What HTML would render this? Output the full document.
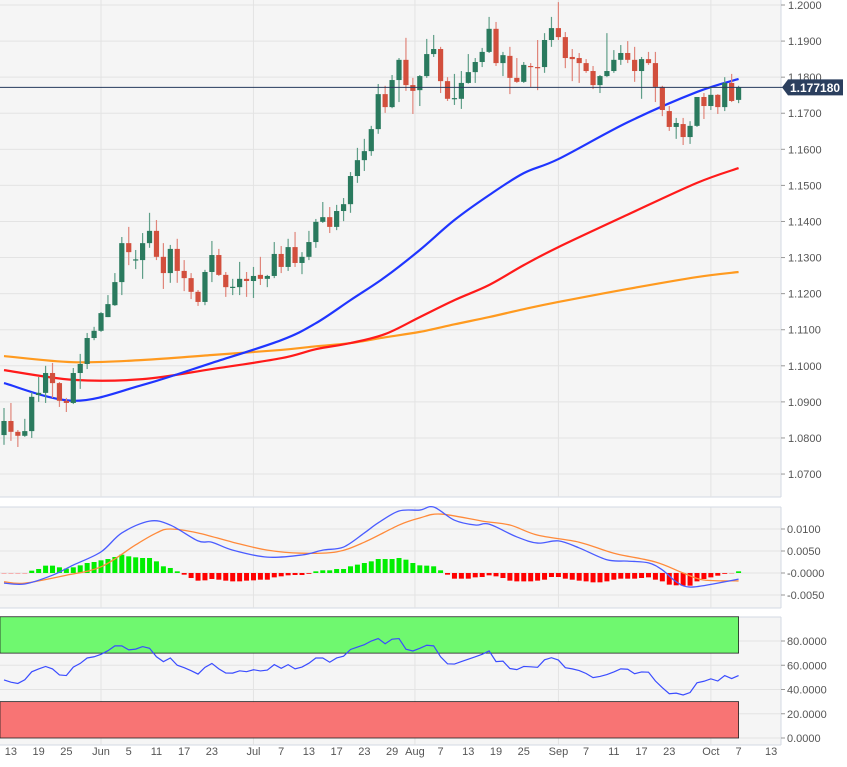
<!DOCTYPE html>
<html><head><meta charset="utf-8"><style>
html,body{margin:0;padding:0;background:#fff;}
svg{display:block;font-family:"Liberation Sans",sans-serif;}
</style></head><body>
<svg id="chart" width="847" height="767" viewBox="0 0 847 767" xmlns="http://www.w3.org/2000/svg"></svg>
<script>
// ---- data ----
const opens=[1.0808,1.0847,1.0817,1.0806,1.0819,1.0919,1.0925,1.0980,1.0952,1.0903,1.0897,1.0980,1.1005,1.1077,1.1097,1.1135,1.1168,1.1232,1.1340,1.1293,1.1293,1.1340,1.1374,1.1302,1.1257,1.1324,1.1263,1.1243,1.1205,1.1177,1.1260,1.1307,1.1252,1.1216,1.1218,1.1241,1.1235,1.1252,1.1241,1.1249,1.1310,1.1274,1.1329,1.1285,1.1302,1.1343,1.1399,1.1412,1.1385,1.1429,1.1448,1.1526,1.1570,1.1595,1.1656,1.1753,1.1717,1.1792,1.1848,1.1778,1.1764,1.1803,1.1864,1.1878,1.1789,1.1740,1.1740,1.1784,1.1814,1.1842,1.1870,1.1934,1.1839,1.1859,1.1798,1.1787,1.1831,1.1828,1.1828,1.1903,1.1936,1.1911,1.1856,1.1853,1.1839,1.1817,1.1778,1.1803,1.1817,1.1848,1.1867,1.1848,1.1817,1.1850,1.1839,1.1773,1.1706,1.1662,1.1670,1.1634,1.1665,1.1745,1.1720,1.1751,1.1717,1.1784,1.1737];
const highs=[1.0883,1.0897,1.0822,1.0853,1.0927,1.0969,1.1000,1.1008,1.0955,1.0911,1.0994,1.1033,1.1091,1.1108,1.1149,1.1196,1.1257,1.1357,1.1385,1.1321,1.1368,1.1424,1.1404,1.1340,1.1335,1.1352,1.1293,1.1257,1.1210,1.1266,1.1346,1.1324,1.1260,1.1241,1.1288,1.1260,1.1274,1.1302,1.1252,1.1343,1.1332,1.1352,1.1371,1.1315,1.1374,1.1407,1.1454,1.1440,1.1446,1.1465,1.1537,1.1604,1.1629,1.1665,1.1781,1.1776,1.1806,1.1853,1.1909,1.1798,1.1806,1.1906,1.1917,1.1884,1.1800,1.1809,1.1817,1.1864,1.1853,1.1881,1.1967,1.1953,1.1870,1.1884,1.1853,1.1842,1.1839,1.1903,1.1922,1.1967,1.2008,1.1925,1.1878,1.1867,1.1850,1.1831,1.1806,1.1922,1.1875,1.1889,1.1900,1.1884,1.1856,1.1870,1.1870,1.1776,1.1720,1.1687,1.1687,1.1678,1.1745,1.1756,1.1773,1.1753,1.1800,1.1809,1.1776];
const lows=[1.0781,1.0792,1.0775,1.0803,1.0800,1.0900,1.0897,1.0911,1.0886,1.0872,1.0894,1.0936,1.0991,1.1071,1.1094,1.1135,1.1166,1.1196,1.1279,1.1268,1.1241,1.1327,1.1293,1.1213,1.1230,1.1230,1.1207,1.1185,1.1166,1.1168,1.1232,1.1249,1.1191,1.1196,1.1196,1.1191,1.1188,1.1224,1.1218,1.1243,1.1257,1.1263,1.1274,1.1254,1.1293,1.1327,1.1396,1.1368,1.1376,1.1401,1.1424,1.1507,1.1540,1.1582,1.1643,1.1701,1.1714,1.1731,1.1762,1.1698,1.1720,1.1798,1.1856,1.1756,1.1734,1.1723,1.1712,1.1782,1.1784,1.1828,1.1867,1.1831,1.1803,1.1753,1.1784,1.1784,1.1773,1.1764,1.1812,1.1884,1.1903,1.1825,1.1789,1.1784,1.1812,1.1767,1.1756,1.1800,1.1812,1.1834,1.1839,1.1787,1.1740,1.1834,1.1731,1.1692,1.1651,1.1629,1.1612,1.1615,1.1662,1.1684,1.1709,1.1698,1.1706,1.1731,1.1728];
const closes=[1.0847,1.0817,1.0806,1.0819,1.0914,1.0925,1.0980,1.0952,1.0903,1.0897,1.0980,1.1005,1.1077,1.1097,1.1146,1.1171,1.1232,1.1340,1.1315,1.1295,1.1340,1.1374,1.1302,1.1257,1.1324,1.1263,1.1243,1.1205,1.1177,1.1260,1.1307,1.1252,1.1218,1.1219,1.1241,1.1235,1.1249,1.1241,1.1249,1.1310,1.1274,1.1329,1.1285,1.1302,1.1343,1.1399,1.1412,1.1385,1.1429,1.1448,1.1526,1.1570,1.1595,1.1656,1.1753,1.1717,1.1792,1.1848,1.1778,1.1762,1.1803,1.1864,1.1878,1.1789,1.1740,1.1742,1.1784,1.1814,1.1842,1.1870,1.1934,1.1839,1.1861,1.1798,1.1787,1.1834,1.1828,1.1825,1.1903,1.1936,1.1911,1.1853,1.1850,1.1839,1.1817,1.1778,1.1803,1.1817,1.1848,1.1867,1.1848,1.1817,1.1850,1.1839,1.1773,1.1709,1.1662,1.1673,1.1634,1.1665,1.1745,1.1720,1.1751,1.1717,1.1784,1.1734,1.1772];
const lastPrice=1.177180;
const maIdx=[0,10,20,30,40,45,50,55,60,65,70,75,80,90,100,106];
const ma50=[1.0952,1.0903,1.0947,1.1008,1.1071,1.1118,1.1182,1.1246,1.1321,1.1404,1.1473,1.1534,1.1573,1.1675,1.1759,1.1795];
const ma100=[1.0988,1.0961,1.0963,1.0991,1.1021,1.1046,1.1063,1.1088,1.1135,1.1182,1.1224,1.1279,1.1329,1.1419,1.1507,1.1548];
const ma200=[1.1027,1.1010,1.1016,1.1030,1.1044,1.1054,1.1063,1.1079,1.1094,1.1115,1.1135,1.1157,1.1177,1.1213,1.1246,1.1260];
const priceTicks=[1.20,1.19,1.18,1.17,1.16,1.15,1.14,1.13,1.12,1.11,1.10,1.09,1.08,1.07];
const macdIdx=[0,3,7,10,14,17,21,24,28,30,33,38,43,46,49,52,54,57,60,62,65,68,70,74,77,80,83,87,90,93,95,97,99,103,106];
const macdVal=[-0.0023,-0.0025,-0.0005,0.0018,0.0048,0.0091,0.0118,0.0109,0.0073,0.0070,0.0052,0.0036,0.0041,0.0052,0.0059,0.0091,0.0114,0.0141,0.0143,0.0150,0.0120,0.0109,0.0111,0.0082,0.0068,0.0073,0.0057,0.0030,0.0027,0.0023,0.0007,-0.0020,-0.0032,-0.0023,-0.0014];
const sigIdx=[0,3,9,14,19,22,24,28,33,38,43,48,52,57,60,63,69,73,77,83,88,94,98,101,106];
const sigVal=[-0.0020,-0.0023,-0.0005,0.0014,0.0064,0.0091,0.0100,0.0091,0.0070,0.0052,0.0045,0.0048,0.0070,0.0109,0.0125,0.0134,0.0118,0.0109,0.0086,0.0070,0.0045,0.0025,0.0000,-0.0016,-0.0018];
const histE4=[-1,-1,-1,-1,5.3,9.1,16.7,16.7,12.9,9.9,12.9,17.4,22.7,25,28.8,31.8,36.4,41.7,37.9,35.6,34.1,34.1,26.5,15.2,11.4,3.8,-3.8,-11.4,-17.4,-16.7,-13.6,-15.2,-17.4,-19,-19,-17.4,-16.7,-15.2,-15.2,-9.9,-7.6,-5.3,-4.5,-4.5,-1.5,3.8,6.1,6.1,9.1,9.1,15.2,19,22.7,26.5,31.8,31.8,31.8,34.1,30.3,22.7,17.4,16.7,15.2,6.1,-3.8,-12.9,-12.9,-12.9,-9.9,-9.1,-5.3,-7.6,-11.4,-17.4,-19,-19,-19,-17.4,-15.2,-9.1,-9.1,-12.9,-15.2,-17.4,-19,-21.2,-21.2,-19,-15.2,-12.9,-12.9,-12.9,-11.4,-9.9,-15.2,-19,-26.5,-28,-28.8,-28.8,-19,-13.6,-9.9,-6.1,-1.5,-0.8,3.8];
const macdTicks=[0.01,0.005,0,-0.005];
const macdTickLabels=["0.0100","0.0050","-0.0000","-0.0050"];
const rsi=[47.9,46,45,48,54.6,57,59,57,52,51.5,58.5,61.5,66,67,69,72,76,76,72.7,73.3,75.4,74,67,63,66,60,58,55.5,52.7,58.3,61.5,57,53.6,53.5,55.4,54.7,56.3,55.3,56,60.5,57.5,60.5,57,58.5,61.7,66,66,62.5,66,67.5,73,75,77,80,82,77.7,81.5,82,73.2,71.8,74,76.5,76,67,61.2,61,63,65,67,69,71.8,63,63.4,57.3,56.4,59,58.7,58.3,64.5,66.2,64.3,58,57,55.6,53.2,49.8,50.8,52.3,54.5,57,56.7,53,54.5,54.3,47,41.5,36.5,37,35.5,37.5,45.5,46.8,48.8,47,51.5,49,51.5];
const rsiTicks=[80,60,40,20,0];
const xLabels=["13","19","25","Jun","5","11","17","23","Jul","7","13","17","23","29","Aug","7","13","19","25","Sep","7","11","17","23","Oct","7","13"];
const xLabelBars=[1,5,9,14,18,22,26,30,36,40,44,48,52,56,59.3,63,67,71,75,80,84,88,92,96,102,106,110.7];
const monthBars=[14,36,59.3,80,102];

// ---- scales ----
const X0=4, BW=6.93, PR=781;
const xB=i=>X0+BW*i;
const yP=p=>5+(1.2-p)*3608;
const yM=v=>573-v/0.005*22;
const yR=r=>738-r*1.2125;
const NS="http://www.w3.org/2000/svg";
const svg=document.getElementById('chart');
function mk(tag,attrs,parent){const e=document.createElementNS(NS,tag);for(const k in attrs)e.setAttribute(k,attrs[k]);(parent||svg).appendChild(e);return e;}
function smooth(idx,vals,fy){
  const pts=idx.map((i,k)=>[xB(i),fy(vals[k])]);
  let d=`M${pts[0][0]},${pts[0][1]}`;
  for(let k=0;k<pts.length-1;k++){
    const p0=pts[Math.max(0,k-1)],p1=pts[k],p2=pts[k+1],p3=pts[Math.min(pts.length-1,k+2)];
    const c1=[p1[0]+(p2[0]-p0[0])/6,p1[1]+(p2[1]-p0[1])/6],c2=[p2[0]-(p3[0]-p1[0])/6,p2[1]-(p3[1]-p1[1])/6];
    d+=` C${c1[0]},${c1[1]} ${c2[0]},${c2[1]} ${p2[0]},${p2[1]}`;
  }
  return d;
}

// ---- panels ----
const panels=[[0,0,497,'main-price-panel'],[0,507,608,'macd-panel'],[0,617,745,'rsi-panel']];
panels.forEach(p=>{
  const r=mk('rect',{x:p[0],y:p[1],width:PR,height:p[2]-p[1],fill:'#f5f5f5'});
  
  
  mk('line',{x1:PR,y1:p[1],x2:PR,y2:p[2],stroke:'#d3d9e3','stroke-width':1});
  mk('line',{x1:0,y1:p[2],x2:PR,y2:p[2],stroke:'#d3d9e3','stroke-width':1});
  monthBars.forEach(b=>{const g=mk('line',{x1:xB(b),y1:p[1],x2:xB(b),y2:p[2],stroke:'#e3e3e3','stroke-width':1});
    });
});
mk('line',{x1:0,y1:507,x2:PR,y2:507,stroke:'#d3d9e3'});
mk('line',{x1:0,y1:617,x2:PR,y2:617,stroke:'#d3d9e3'});

// price grid + ticks
priceTicks.forEach(p=>{
  const y=yP(p);
  const g=mk('line',{x1:0,y1:y,x2:PR,y2:y,stroke:'#e3e3e3'});
  
  mk('line',{x1:PR,y1:y,x2:PR+4,y2:y,stroke:'#999'});
  const t=mk('text',{x:788,y:y+4,'font-size':11,fill:'#555'});t.textContent=p.toFixed(4);
  
});

// moving averages
[[ma200,'#ff9a1f','ma-200-line'],[ma100,'#ff1a1a','ma-100-line'],[ma50,'#1f35ff','ma-50-line']].forEach(m=>{
  const l=mk('path',{d:smooth(maIdx,m[0],yP),fill:'none',stroke:m[1],'stroke-width':2.2});
  
});

// candles
opens.forEach((o,i)=>{
  const c=closes[i],up=c>=o,col=up?'#2a7a5e':'#d24f3d',wc=up?'#5f9e88':'#e0857a';
  const x=xB(i);
  const g=mk('g',{});
  
  mk('line',{x1:x,y1:yP(highs[i]),x2:x,y2:yP(lows[i]),stroke:wc,'stroke-width':1.2},g);
  const top=yP(Math.max(o,c)),h=Math.max(1.2,Math.abs(yP(o)-yP(c)));
  mk('rect',{x:x-2.6,y:top,width:5.2,height:h,fill:col},g);
});

// last price line & label
const ly=yP(lastPrice);
const pl=mk('line',{x1:0,y1:ly,x2:842,y2:ly,stroke:'#263a5c','stroke-width':1});

const pb=mk('path',{d:`M782,${ly} L788,${ly-8} L843,${ly-8} L843,${ly+8} L788,${ly+8} Z`,fill:'#2b3f5e'});

const pt=mk('text',{x:790,y:ly+4.5,'font-size':12,'font-weight':'bold',fill:'#fff'});pt.textContent=lastPrice.toFixed(6);


// MACD
macdTicks.forEach((v,k)=>{
  const y=yM(v);
  mk('line',{x1:0,y1:y,x2:PR,y2:y,stroke:'#e3e3e3'});
  mk('line',{x1:PR,y1:y,x2:PR+4,y2:y,stroke:'#999'});
  const t=mk('text',{x:787,y:y+4,'font-size':11,fill:'#555'});t.textContent=macdTickLabels[k];
  
});
histE4.forEach((h,i)=>{
  const v=h/10000,y0=yM(0),y1=yM(v);
  const r=mk('rect',{x:xB(i)-2.5,y:Math.min(y0,y1),width:5,height:Math.max(0.8,Math.abs(y1-y0)),fill:v>=0?'#00ee00':(Math.abs(h)<1.2?'#f7a0a0':'#ff0000')});
  
});
const sl=mk('path',{d:smooth(sigIdx,sigVal,yM),fill:'none',stroke:'#ff8a3a','stroke-width':1.3});

const ml=mk('path',{d:smooth(macdIdx,macdVal,yM),fill:'none',stroke:'#4a5cff','stroke-width':1.3});


// RSI
rsiTicks.forEach(r=>{
  const y=yR(r);
  mk('line',{x1:0,y1:y,x2:PR,y2:y,stroke:'#e3e3e3'});
  mk('line',{x1:PR,y1:y,x2:PR+4,y2:y,stroke:'#999'});
  const t=mk('text',{x:787,y:y+4,'font-size':11,fill:'#555'});t.textContent=r.toFixed(4);
  
});
const ob=mk('rect',{x:0,y:yR(100),width:xB(106)-0,height:yR(70)-yR(100),fill:'#6ff86f',stroke:'#222','stroke-width':0.8});

const os=mk('rect',{x:0,y:yR(30),width:xB(106)-0,height:yR(0)-yR(30),fill:'#f87474',stroke:'#222','stroke-width':0.8});

const rl=mk('polyline',{points:rsi.map((r,i)=>`${xB(i)},${yR(r)}`).join(' '),fill:'none',stroke:'#3a4cff','stroke-width':1.2});


// x axis labels
xLabels.forEach((s,k)=>{
  const t=mk('text',{x:xB(xLabelBars[k]),y:755,'font-size':11,fill:'#555','text-anchor':'middle'});t.textContent=s;
  
});
</script>
</body></html>
